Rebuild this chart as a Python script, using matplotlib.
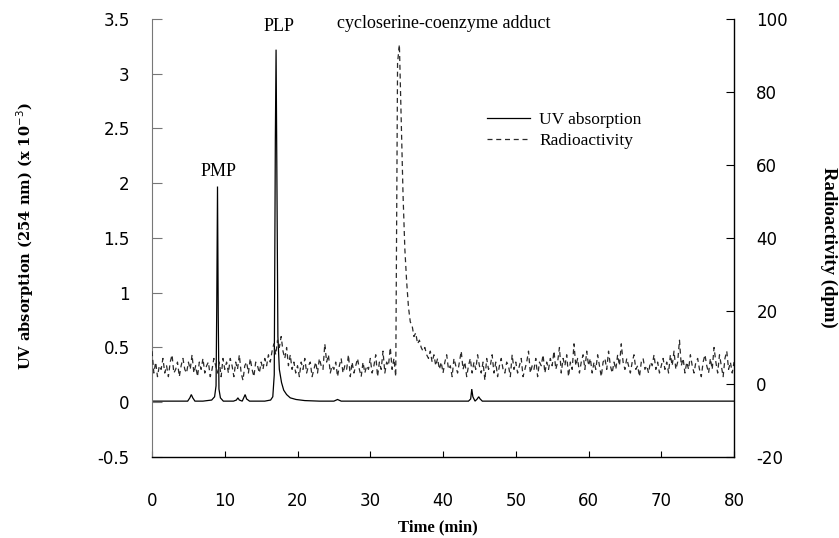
import numpy as np
import matplotlib
matplotlib.use("Agg")
import matplotlib.pyplot as plt

# UV absorption trace (x 10^-3), read at irregular times (min)
uv_time = [0.0, 4.9, 5.2, 5.4, 5.6, 5.9, 7.0, 8.2, 8.6, 8.8, 8.9, 9.0, 9.1, 9.2,
           9.4, 9.8, 11.2, 11.6, 11.8, 12.0, 12.4, 12.6, 12.8, 13.0, 13.4, 15.5,
           16.3, 16.6, 16.8, 16.95, 17.05, 17.15, 17.3, 17.5, 17.8, 18.1, 18.5,
           19.0, 19.8, 21.0, 23.0, 25.0, 25.5, 26.0, 30.0, 35.0, 43.5, 43.8,
           43.95, 44.1, 44.4, 44.7, 44.9, 45.1, 45.4, 46.0, 60.0, 80.0]
uv_abs = [0.01, 0.01, 0.04, 0.07, 0.04, 0.01, 0.01, 0.02, 0.05, 0.15, 0.9, 1.97,
          0.8, 0.12, 0.04, 0.01, 0.01, 0.02, 0.04, 0.02, 0.01, 0.04, 0.07, 0.03,
          0.01, 0.01, 0.02, 0.05, 0.25, 2.4, 3.22, 2.2, 0.6, 0.3, 0.18, 0.11,
          0.07, 0.04, 0.025, 0.015, 0.01, 0.01, 0.025, 0.01, 0.01, 0.01, 0.01,
          0.03, 0.12, 0.05, 0.01, 0.03, 0.05, 0.03, 0.01, 0.01, 0.01, 0.01]

# Radioactivity (dpm), one reading every 0.25 min from 0 to 80 min
rad_dpm = [
    9, 3, 6, 2, 5, 4, 7, 3, 5, 2, 6, 8, 3, 4, 6, 2, 5, 7, 4, 3,          # 0-4.75
    6, 4, 8, 3, 5, 2, 6, 4, 7, 3, 5, 6, 2, 4, 7, 5, 3, 6, 2, 7,          # 5-9.75
    4, 6, 3, 7, 5, 2, 6, 4, 8, 3, 1, 5, 6, 3, 7, 4, 2, 6, 5, 3,          # 10-14.75
    6, 4, 7, 5, 8, 6, 9, 11, 8, 12, 10, 13, 9, 7, 10, 5, 8, 4, 6, 3,     # 15-19.75
    5, 2, 6, 4, 7, 3, 5, 6, 2, 4, 6, 3, 7, 5, 4, 11, 6, 8, 3, 5,         # 20-24.75
    4, 6, 2, 5, 7, 3, 5, 4, 8, 2, 6, 3, 5, 7, 4, 2, 6, 3, 5, 4,          # 25-29.75
    7, 3, 5, 8, 2, 6, 4, 9, 3, 6, 5, 10, 4, 7, 2, 88, 93, 72, 52, 37,    # 30-34.75
    28, 21, 17, 16, 13, 14, 11, 12, 10, 9, 10, 8, 7, 9, 6, 8, 5, 7, 4, 6,  # 35-39.75
    3, 6, 8, 4, 5, 2, 7, 5, 3, 6, 9, 4, 6, 2, 5, 7, 3, 6, 4, 8,          # 40-44.75
    5, 3, 6, 1, 7, 4, 5, 8, 3, 6, 2, 5, 7, 4, 3, 6, 5, 2, 8, 4,          # 45-49.75
    6, 3, 5, 7, 2, 4, 6, 9, 3, 5, 4, 7, 2, 6, 5, 8, 3, 6, 4, 7,          # 50-54.75
    5, 9, 4, 6, 10, 3, 7, 5, 8, 2, 6, 4, 11, 5, 7, 3, 6, 8, 4, 9,        # 55-59.75
    5, 7, 3, 6, 4, 8, 5, 2, 6, 7, 4, 9, 5, 3, 6, 4, 8, 5, 11, 6,         # 60-64.75
    4, 7, 5, 3, 6, 8, 4, 5, 2, 6, 7, 4, 5, 3, 6, 5, 8, 4, 6, 3,          # 65-69.75
    5, 7, 4, 6, 3, 8, 5, 9, 4, 6, 12, 5, 7, 3, 6, 4, 8, 5, 3, 6,         # 70-74.75
    7, 4, 2, 6, 8, 5, 3, 7, 4, 10, 6, 3, 8, 5, 2, 7, 9, 4, 6, 3,         # 75-79.75
    6,                                                                   # 80
]
rad_time = np.linspace(0, 80, len(rad_dpm))

x_ticks = [0, 10, 20, 30, 40, 50, 60, 70, 80]
uv_ticks = [-0.5, 0, 0.5, 1, 1.5, 2, 2.5, 3, 3.5]
rad_ticks = [-20, 0, 20, 40, 60, 80, 100]

peak_labels = [("PMP", 9.1, 2.03, "center"),
               ("PLP", 17.5, 3.35, "center"),
               ("cycloserine-coenzyme adduct", 25.4, 3.38, "left")]

serif = "Liberation Serif"
sans = "DejaVu Sans"

fig = plt.figure(figsize=(8.39, 5.38), dpi=100)
ax = fig.add_axes([0.1812, 0.1506, 0.6937, 0.8141])
ax2 = ax.twinx()

uv_line, = ax.plot(uv_time, uv_abs, color="black", lw=0.9, solid_joinstyle="miter")
rad_line, = ax2.plot(rad_time, rad_dpm, color="#2a2a2a", lw=0.9,
                     linestyle=(0, (4, 3)))

ax.set_xlim(0, 80)
ax.set_ylim(-0.5, 3.5)
ax2.set_ylim(-20, 100)

# spines
ax.spines["top"].set_visible(False)
ax.spines["right"].set_visible(False)
ax.spines["left"].set_linestyle((0, (1, 1)))
ax.spines["left"].set_color("#777777")
ax.spines["left"].set_linewidth(0.8)
ax.spines["bottom"].set_linewidth(1.0)
for side in ("top", "left", "bottom"):
    ax2.spines[side].set_visible(False)
ax2.spines["right"].set_linewidth(1.0)

ax.set_xticks(x_ticks)
ax.set_xticklabels([str(v) for v in x_ticks], fontfamily=sans, fontsize=12)
ax.set_yticks(uv_ticks)
ax.set_yticklabels(["%g" % v for v in uv_ticks], fontfamily=sans, fontsize=12)
ax2.set_yticks(rad_ticks)
ax2.set_yticklabels([str(v) for v in rad_ticks], fontfamily=sans, fontsize=12)

ax.tick_params(axis="x", direction="in", length=4.5, width=0.8, pad=25)
ax.tick_params(axis="y", direction="in", length=7, width=0.8, color="#777777",
               pad=16)
ax2.tick_params(axis="y", direction="in", length=6, width=0.8, pad=16)

fig.text(438 / 839, 1 - 527 / 538, "Time (min)", ha="center", va="center",
         fontfamily=serif, fontweight="bold", fontsize=12)
fig.text(0.030, 0.560, "UV absorption (254 nm) (x 10$^{-3}$)",
         rotation=90, ha="center", va="center",
         fontfamily="DejaVu Serif", fontweight="bold", fontsize=10.5)
fig.text(829 / 839, 1 - 247 / 538, "Radioactivity (dpm)", rotation=-90,
         ha="center", va="center", fontfamily=serif, fontweight="bold",
         fontsize=13.5)

for text, xv, yv, ha in peak_labels:
    ax.text(xv, yv, text, ha=ha, va="bottom", fontfamily=serif, fontsize=13)

ax.legend([uv_line, rad_line], ["UV absorption", "Radioactivity"],
          loc="center left", bbox_to_anchor=(0.5756, 0.745), frameon=False,
          prop={"family": serif, "size": 12.5}, handlelength=2.5,
          handletextpad=0.5, borderpad=0, borderaxespad=0, labelspacing=0.3)

fig.savefig("out.png", dpi=100)
